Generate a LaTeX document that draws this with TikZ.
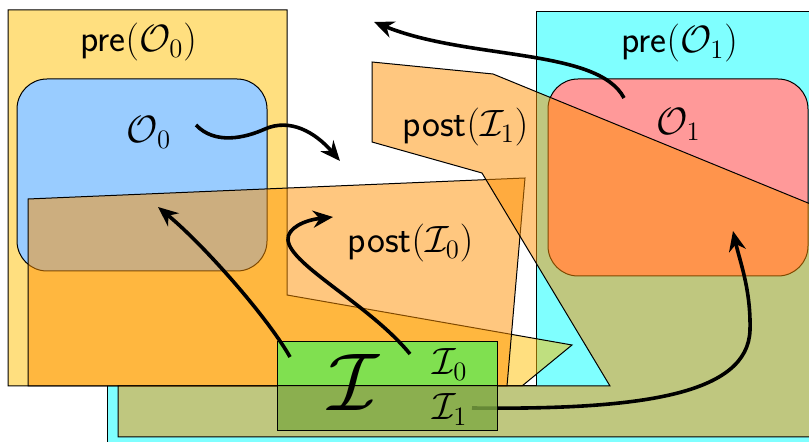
\RequirePackage{fix-cm}
\documentclass[tikz,border=0pt]{standalone}
\usepackage{fontspec}
\usetikzlibrary{arrows.meta}
\definecolor{preyellow}{RGB}{255,193,0}
\definecolor{precyan}{RGB}{0,255,255}
\definecolor{postorange}{RGB}{255,145,0}
\definecolor{oblue}{RGB}{153,204,255}
\definecolor{opink}{RGB}{255,153,153}
\definecolor{igreen}{RGB}{128,224,80}
\definecolor{igreenlow}{RGB}{127,170,68}

\begin{document}
\begin{tikzpicture}[
        x=0.5pt, y=-0.5pt,
        region/.style = {draw=black, line width=0.5pt},
        preA/.style   = {region, fill=preyellow, fill opacity=0.5},
        preB/.style   = {region, fill=precyan, fill opacity=0.5},
        post/.style   = {region, fill=postorange, fill opacity=0.5},
        obox/.style   = {region, rounded corners=15pt},
        lbl/.style    = {anchor=base, inner sep=0pt, font=\fontsize{19}{23}\selectfont},
        arr/.style    = {-{Stealth[length=10pt, width=8.5pt]}, line width=1.8pt}
    ]
    \useasboundingbox (0,0) rectangle (809,442);
    \clip (0,0) rectangle (809,442);
    \fill[white] (0,0) rectangle (809,442);

    % pre-images
    \path[preB] (536,12) -- (830,12) -- (830,460) -- (107,460) -- (107,386) -- (536,386) -- cycle;
    \path[preA] (8,10) -- (287,10) -- (287,295) -- (572,345) -- (522,386) -- (8,386) -- cycle;

    % obstacles
    \path[obox, fill=oblue] (17,79) rectangle (267,271);
    \path[obox, fill=opink] (548,79) rectangle (808,276);

    % post-images
    \path[post] (28,199) -- (525,178) -- (507,386) -- (28,386) -- cycle;
    \path[post] (372,62) -- (493,74) -- (830,212) -- (830,437) -- (118,437)
        -- (118,386) -- (610,386) -- (482,173) -- (372,142) -- cycle;

    \node[lbl] (preO0)  at (138.5,52) {\textsf{pre}$(\mathcal{O}_0)$};
    \node[lbl] (preO1)  at (679.5,53) {\textsf{pre}$(\mathcal{O}_1)$};
    \node[lbl] (O0)     at (149,143)  {$\mathcal{O}_0$};
    \node[lbl] (O1)     at (678.5,135) {$\mathcal{O}_1$};
    \node[lbl] (postI1) at (465.5,137) {\textsf{post}$(\mathcal{I}_1)$};
    \node[lbl] (postI0) at (410.5,253) {\textsf{post}$(\mathcal{I}_0)$};

    \coordinate (o1from) at (624,98);
    \coordinate (o1to)   at (374,22);
    \coordinate (o0from) at (196,125);
    \coordinate (o0to)   at (340,161);
    \coordinate (ifrom)  at (290,357);
    \coordinate (ito)    at (158,207);
    \coordinate (i0from) at (410,354);
    \coordinate (i0to)   at (333,217);
    \coordinate (i1from) at (472,408);
    \coordinate (i1to)   at (733,231);

    \draw[arr] (o1from) .. controls (598,48) and (468,60) .. (o1to);
    \draw[arr] (o0from) .. controls (215,145) and (245,138) .. (265,129)
        .. controls (290,118) and (315,132) .. (o0to);
    \draw[arr] (i1from) .. controls (640,410) and (748,395) .. (750,330)
        .. controls (751,290) and (740,262) .. (i1to);

    % the set I
    \fill[igreen] (277,342) rectangle (497,386);
    \fill[igreenlow, fill opacity=0.8] (277,386) rectangle (497,431);
    \draw[region] (277,342) rectangle (497,431) (277,386) -- (497,386);
    \node[lbl, font=\fontsize{41}{48}\selectfont] (bigI) at (354,411) {$\mathcal{I}$};
    \node[lbl] (I0) at (450,375) {$\mathcal{I}_0$};
    \node[lbl] (I1) at (450,420) {$\mathcal{I}_1$};

    \draw[arr] (ifrom) .. controls (268,318) and (205,246) .. (ito);
    \draw[arr] (i0from) .. controls (370,305) and (290,265) .. (288,240)
        .. controls (287,228) and (305,220) .. (i0to);
\end{tikzpicture}
\end{document}
